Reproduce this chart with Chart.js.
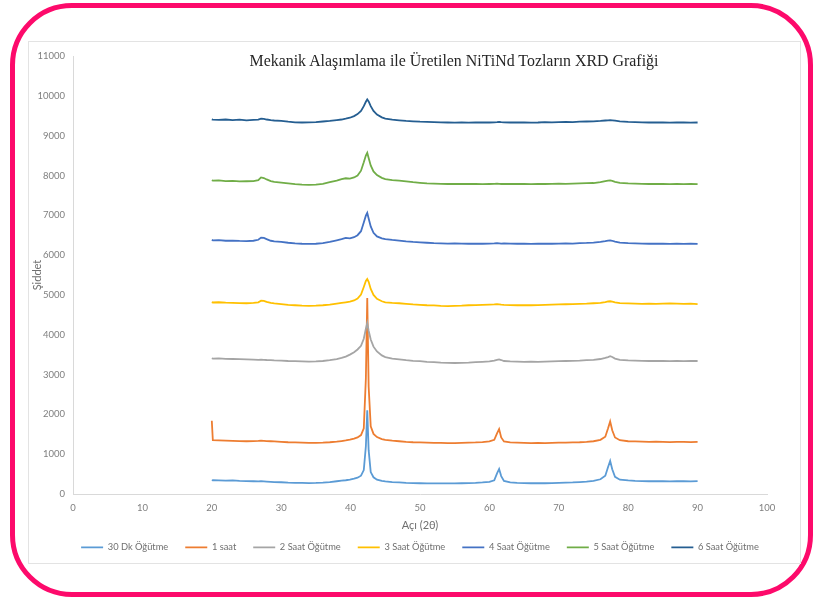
<!DOCTYPE html>
<html lang="tr">
<head>
<meta charset="utf-8">
<script src="https://cdn.jsdelivr.net/npm/chart.js@4/dist/chart.umd.min.js"></script>
<style>
  html, body { margin: 0; padding: 0; background: #ffffff; }
  body { width: 822px; height: 601px; position: relative; overflow: hidden; }
  .frame-outer {
    position: absolute; left: 10px; top: 3px; width: 803px; height: 594px;
    box-sizing: border-box; border: 5px solid #fd0a6b; border-radius: 62px;
  }
  .chart-box {
    position: absolute; left: 28px; top: 41px; width: 773px; height: 523px;
    box-sizing: border-box; border: 1px solid #e3e3e3;
  }
  .canvas-wrap { position: absolute; left: 29px; top: 42px; width: 770px; height: 520px; }
  .chart-title {
    position: absolute; left: 204px; top: 52px; width: 500px; text-align: center;
    font-family: "Liberation Serif", "DejaVu Serif", serif; font-size: 15.9px;
    color: #262626; white-space: nowrap;
  }
</style>
</head>
<body>
<div class="frame-outer"></div>
<div class="chart-box"></div>
<div class="canvas-wrap"><canvas id="xrd"></canvas></div>
<div class="chart-title">Mekanik Alaşımlama ile Üretilen NiTiNd Tozların XRD Grafiği</div>
<script>
// Diffraction angles (2θ) shared by every scan
const angles = [
  20, 20.15, 21, 22, 23, 24, 25, 26,
  26.7, 27.1, 27.5, 27.9, 28.5,
  29, 30, 31, 32, 33, 34, 35, 36, 37, 38,
  38.7, 39.3, 39.9, 40.5, 41, 41.5, 41.9, 42.2, 42.4, 42.6, 42.9, 43.3, 43.8, 44.5,
  45, 46, 47, 48, 49, 50, 51, 52, 53, 54, 55, 56, 57, 58, 59, 60,
  60.7, 61.1, 61.4, 61.7, 62.1,
  63, 64, 65, 66, 67, 68, 69, 70, 71, 72, 73, 74, 75, 76,
  76.7, 77.1, 77.4, 77.7, 78.1, 78.8,
  80, 81, 82, 83, 84, 85, 86, 87, 88, 89, 90
];

// Intensity (Şiddet) per milling time
const dk30 = [
  350, 345, 340, 335, 340, 330, 325, 320,
  315, 320, 318, 312, 305,
  300, 295, 285, 280, 278, 275, 278, 285, 300, 320,
  335, 345, 360, 385, 410, 460, 600, 1200, 2100, 1100, 550, 420, 360, 330,
  315, 300, 290, 280, 275, 270, 268, 265, 268, 265, 268, 270, 275, 280, 290, 305,
  345, 520, 630, 450, 330,
  290, 280, 275, 270, 272, 270, 275, 280, 285, 290, 300, 310, 330, 370,
  460, 680, 830, 620, 430, 360,
  340, 330, 325, 320, 325, 320, 318, 322, 320, 318, 325
];
const saat1 = [
  1840, 1350, 1345, 1340, 1335, 1330, 1325, 1330,
  1335, 1340, 1335, 1330, 1325,
  1320, 1310, 1300, 1295, 1290, 1285, 1285, 1290, 1300, 1315,
  1330, 1345, 1365, 1390, 1420, 1480, 1650, 2900, 4920, 2700, 1700, 1510, 1430, 1380,
  1360, 1340, 1325, 1310, 1300, 1295, 1290, 1285, 1285, 1280, 1280, 1285, 1290, 1295, 1305, 1320,
  1360, 1520, 1630, 1420, 1320,
  1295, 1290, 1285, 1280, 1285, 1280, 1285, 1290, 1290, 1295, 1300, 1310, 1325, 1360,
  1440, 1650, 1820, 1600, 1420, 1350,
  1325, 1320, 1315, 1310, 1315, 1310, 1305, 1310, 1310, 1305, 1310
];
const saat2 = [
  3410, 3400, 3405, 3395, 3390, 3385, 3380, 3375,
  3370, 3375, 3370, 3365, 3360,
  3355, 3350, 3340, 3335, 3330, 3325, 3330, 3340, 3360, 3390,
  3420, 3450, 3500, 3560, 3630, 3720, 3900, 4150, 4300, 4100, 3880, 3700, 3580, 3480,
  3440, 3400, 3380, 3360, 3345, 3335, 3320, 3310, 3300, 3295, 3290, 3295, 3300, 3310, 3320, 3330,
  3350, 3370, 3380, 3365, 3340,
  3330, 3325, 3320, 3325, 3320, 3325, 3330, 3335, 3340, 3345, 3350, 3360, 3370, 3390,
  3420, 3440, 3460, 3440, 3400, 3370,
  3355, 3350, 3345, 3340, 3345, 3340, 3335, 3340, 3335, 3340, 3340
];
const saat3 = [
  4820, 4810, 4815, 4805, 4800, 4795, 4790, 4800,
  4815, 4855, 4850, 4825, 4800,
  4785, 4770, 4750, 4740, 4730, 4725, 4730, 4740, 4755, 4780,
  4800, 4815, 4830, 4860, 4910, 5010, 5200, 5350, 5400, 5330, 5150, 5000, 4900, 4840,
  4815, 4800, 4790, 4775, 4760, 4750, 4740, 4735, 4725, 4720, 4725, 4730, 4740, 4745, 4750, 4755,
  4760, 4765, 4760, 4755, 4750,
  4745, 4740, 4745, 4740, 4745, 4750, 4755, 4760, 4765, 4770, 4775, 4780, 4790, 4800,
  4820, 4835, 4840, 4830, 4815, 4795,
  4785, 4780, 4775, 4780, 4775, 4780, 4785, 4780, 4775, 4780, 4770
];
const saat4 = [
  6380, 6370, 6375, 6360, 6365, 6355, 6350, 6360,
  6385, 6440, 6430, 6400, 6360,
  6345, 6330, 6310, 6295, 6285, 6280, 6285, 6300, 6330, 6370,
  6400, 6430, 6420, 6450, 6500, 6600, 6820, 6990, 7060, 6920, 6720, 6560, 6470, 6420,
  6400, 6380, 6365, 6345, 6330, 6320, 6310, 6300, 6295, 6290, 6295, 6290, 6285, 6290, 6285, 6290,
  6295, 6300, 6295, 6290, 6295,
  6290, 6285, 6290, 6280, 6285, 6290, 6285, 6290, 6295, 6290, 6300, 6305, 6315, 6330,
  6350, 6365, 6370, 6360, 6340, 6315,
  6300, 6295, 6290, 6285, 6290, 6285, 6280, 6285, 6280, 6285, 6280
];
const saat5 = [
  7880, 7870, 7875, 7860, 7865, 7850, 7855, 7860,
  7880, 7950, 7935, 7900, 7860,
  7840, 7820, 7800, 7780, 7770, 7765, 7770, 7790, 7830, 7870,
  7910, 7930, 7920, 7950, 8000, 8120, 8330, 8500, 8570, 8440, 8250, 8100, 8010, 7940,
  7910, 7885, 7870, 7850, 7830, 7815, 7800, 7795, 7790, 7785, 7790, 7785, 7790, 7785, 7780, 7785,
  7790, 7795, 7790, 7785, 7790,
  7785, 7790, 7785, 7780, 7790, 7785, 7790, 7795, 7790, 7795, 7800, 7805, 7810, 7830,
  7855, 7870, 7875, 7865, 7840, 7815,
  7800, 7795, 7790, 7785, 7790, 7785, 7780, 7785, 7780, 7785, 7780
];
const saat6 = [
  9410, 9400, 9395, 9405, 9390, 9400, 9385, 9395,
  9400, 9425, 9420, 9405, 9390,
  9380, 9370, 9350, 9335, 9330, 9335, 9340, 9355, 9370, 9390,
  9405, 9425, 9450, 9490, 9540, 9620, 9740, 9850, 9910, 9860, 9740, 9620, 9530, 9460,
  9430, 9400, 9385, 9370, 9360, 9350, 9345, 9340, 9335, 9330, 9325, 9330, 9325, 9330, 9335, 9330,
  9335, 9340, 9345, 9340, 9335,
  9330, 9335, 9330, 9325, 9330, 9340, 9335, 9340, 9345, 9340, 9350, 9355, 9360, 9370,
  9380, 9385, 9390, 9385, 9375, 9360,
  9345, 9340, 9335, 9330, 9335, 9330, 9325, 9330, 9330, 9325, 9330
];

const seriesNames = ['30 Dk Öğütme', '1 saat', '2 Saat Öğütme', '3 Saat Öğütme', '4 Saat Öğütme', '5 Saat Öğütme', '6 Saat Öğütme'];
const seriesValues = [dk30, saat1, saat2, saat3, saat4, saat5, saat6];
const seriesColors = ['#5b9bd5', '#ed7d31', '#a5a5a5', '#ffc000', '#4472c4', '#70ad47', '#255e91'];

const xTicks = { min: 0, max: 100, step: 10 };
const yTicks = { min: 0, max: 11000, step: 1000 };

const datasets = seriesValues.map((vals, i) => ({
  label: seriesNames[i],
  data: vals.map((v, k) => ({ x: angles[k], y: v })),
  borderColor: seriesColors[i],
  backgroundColor: seriesColors[i],
  borderWidth: 1.8,
  pointRadius: 0,
  tension: 0,
  // later scans are painted over earlier ones
  order: seriesValues.length - i
}));

const axisGray = '#7f7f7f';
const tickFont = { family: 'Lato, "Open Sans", sans-serif', size: 9.5 };
const plainNumber = v => String(v);

// Centre the legend row under the plot area instead of the whole canvas
const legendUnderPlot = {
  id: 'legendUnderPlot',
  afterLayout(chart) {
    const lg = chart.legend, ca = chart.chartArea;
    if (!lg || !ca) return;
    const shift = (ca.left + ca.right) / 2 - (lg.left + lg.right) / 2;
    lg.left += shift;
    lg.right += shift;
  }
};

new Chart(document.getElementById('xrd'), {
  type: 'line',
  data: { datasets },
  plugins: [legendUnderPlot],
  options: {
    responsive: true,
    maintainAspectRatio: false,
    animation: false,
    layout: { padding: { top: 14, right: 32, left: 0, bottom: 0 } },
    plugins: {
      tooltip: { enabled: false },
      title: { display: false },
      legend: {
        position: 'bottom',
        labels: {
          usePointStyle: true,
          pointStyle: 'line',
          pointStyleWidth: 22,
          boxHeight: 9.3,
          padding: 17,
          color: '#6f6f6f',
          font: { family: 'Lato, "Open Sans", sans-serif', size: 9.3 },
          sort: (a, b) => a.datasetIndex - b.datasetIndex
        }
      }
    },
    scales: {
      x: {
        type: 'linear',
        min: xTicks.min, max: xTicks.max,
        grid: { display: false, drawTicks: false },
        border: { display: true, color: '#d9d9d9', width: 1 },
        ticks: { stepSize: xTicks.step, color: axisGray, font: tickFont, padding: 8, maxRotation: 0, callback: plainNumber },
        title: {
          display: true, text: 'Açı (2θ)', color: '#6f6f6f',
          font: { family: 'Lato, "Open Sans", sans-serif', size: 11 },
          padding: { top: 0, bottom: -6 }
        },
        afterFit: s => { s.height = 31.7; }
      },
      y: {
        min: yTicks.min, max: yTicks.max,
        grid: { display: false, drawTicks: false },
        border: { display: true, color: '#d9d9d9', width: 1 },
        ticks: { stepSize: yTicks.step, color: axisGray, font: tickFont, padding: 8, callback: plainNumber },
        title: {
          display: true, text: 'Şiddet', color: '#6f6f6f',
          font: { family: 'Lato, "Open Sans", sans-serif', size: 11 },
          padding: { top: 1.5, bottom: 0 }
        },
        afterFit: s => { s.width = 44; }
      }
    }
  }
});
</script>
</body>
</html>
